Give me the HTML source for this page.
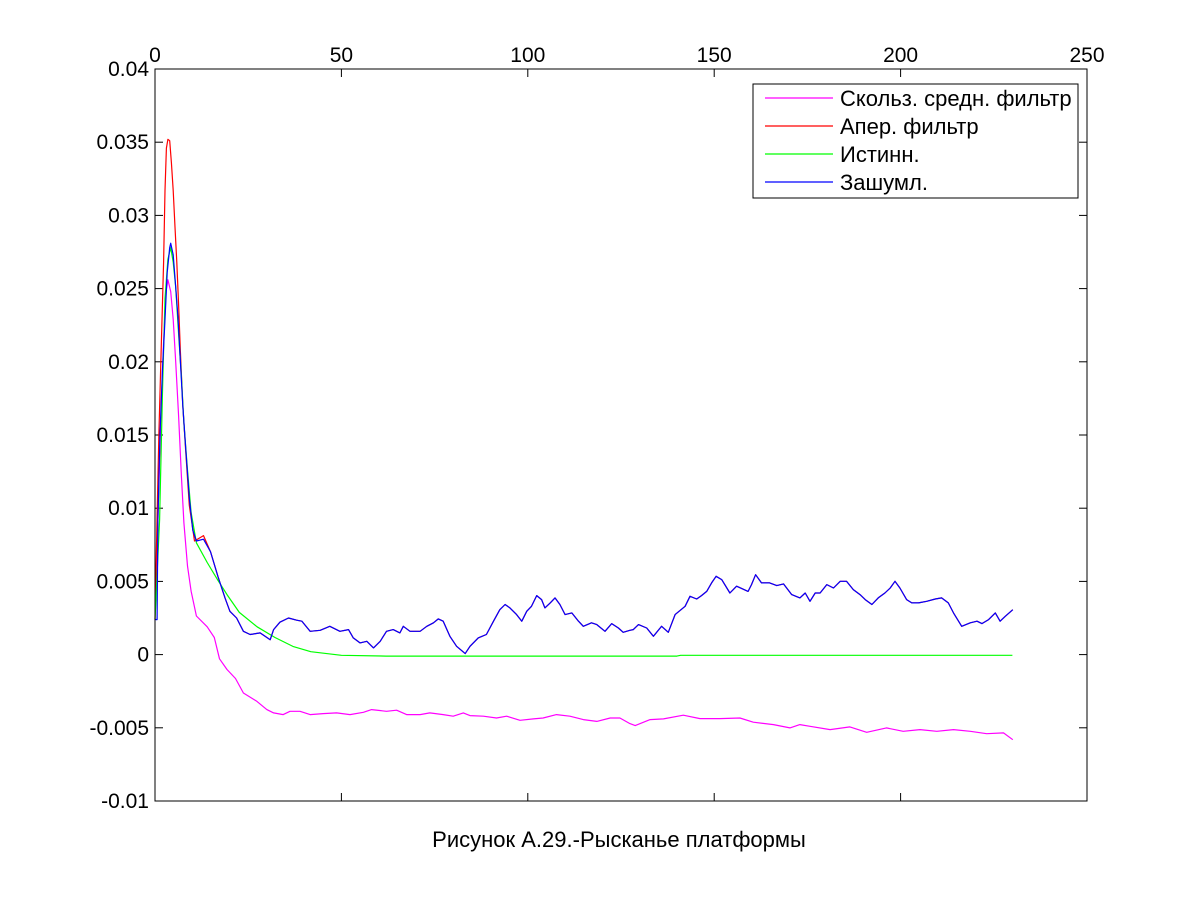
<!DOCTYPE html>
<html><head><meta charset="utf-8"><style>
html,body{margin:0;padding:0;background:#fff;}
svg{display:block;font-family:"Liberation Sans",Arial,sans-serif;}
</style></head><body>
<svg id="chart" width="1201" height="901" viewBox="0 0 1201 901" xmlns="http://www.w3.org/2000/svg">
<rect x="0" y="0" width="1201" height="901" fill="#fff"/>
<g id="grid"></g>
<g id="series"></g>
<rect x="155" y="69" width="932" height="732" fill="none" stroke="#000" stroke-width="1"/>
<g id="legend"></g>
<text x="619" y="847" font-size="22" text-anchor="middle">Рисунок А.29.-Рысканье платформы</text>
</svg>
<script>
const xTicks=[0,50,100,150,200,250];
const yTicks=[0.04,0.035,0.03,0.025,0.02,0.015,0.01,0.005,0,-0.005,-0.01];
const yTickLabels=["0.04","0.035","0.03","0.025","0.02","0.015","0.01","0.005","0","-0.005","-0.01"];
// values in units of 1e-3
const blueT=[0,0.57,0.77,1.34,2.0,2.68,3.26,3.93,4.22,4.89,5.56,6.13,6.8,7.47,8.24,9.2,10.15,11.11,13.0,14.9,16.9,18.8,20.1,21.9,23.7,25.5,28.2,30.9,31.8,33.5,35.8,38.0,39.4,41.6,44.3,46.9,49.6,51.9,53.2,55.0,56.8,58.6,60.4,62.1,63.9,65.7,66.6,68.4,71.1,72.9,74.7,76.0,77.3,79.1,80.9,83.2,84.5,86.7,88.9,90.8,92.5,93.9,95.2,97.0,98.4,99.7,101.0,102.4,103.7,104.6,106.0,107.3,108.6,110.0,111.8,113.6,114.9,117.1,118.5,120.7,122.5,124.3,125.6,127.4,128.3,129.7,131.9,133.7,135.9,137.7,139.5,142.2,143.5,145.3,146.6,148.0,149.3,150.5,152.0,154.2,156.0,159.1,160.0,161.1,162.7,164.9,166.8,168.6,170.8,173.0,174.4,175.7,177.1,178.4,180.2,182.0,183.8,185.5,187.3,189.1,190.5,192.3,194.0,195.8,197.2,198.5,199.8,201.6,203.0,204.8,207.0,209.3,211.0,212.8,214.2,216.4,218.7,220.5,221.8,223.6,225.4,226.7,228.1,230.1];
const blueV=[2.4,2.39,9.22,15.1,19.5,22.9,26.1,27.8,28.1,27.3,25.1,23.1,20.0,17.0,14.1,10.7,8.49,7.76,7.88,7.03,5.32,3.85,2.96,2.50,1.59,1.37,1.48,1.02,1.71,2.21,2.50,2.35,2.28,1.59,1.66,1.93,1.59,1.71,1.14,0.80,0.91,0.46,0.91,1.59,1.71,1.48,1.93,1.59,1.59,1.93,2.17,2.44,2.28,1.25,0.57,0.07,0.57,1.14,1.37,2.28,3.07,3.42,3.19,2.73,2.28,2.96,3.30,4.03,3.76,3.19,3.53,3.87,3.42,2.73,2.85,2.28,1.93,2.17,2.05,1.59,2.12,1.82,1.52,1.66,1.71,2.05,1.82,1.25,1.93,1.52,2.73,3.30,3.98,3.80,4.03,4.32,4.90,5.35,5.12,4.21,4.67,4.32,4.78,5.46,4.90,4.90,4.71,4.83,4.10,3.87,4.21,3.64,4.21,4.21,4.78,4.55,5.01,5.01,4.44,4.10,3.76,3.42,3.87,4.21,4.55,5.01,4.55,3.76,3.53,3.53,3.64,3.80,3.87,3.53,2.85,1.93,2.17,2.28,2.12,2.39,2.85,2.28,2.62,3.07];
const redEarlyT=[0,0.57,1.05,1.72,2.3,2.68,3.07,3.45,3.93,4.41,4.89,5.37,5.84,6.32,6.8,7.47,8.24,9.2,10.6,13.0];
const redEarlyV=[2.4,9.47,15.1,21.4,26.8,31.7,34.6,35.2,35.1,33.6,31.7,29.2,26.8,23.9,20.7,17.0,13.9,10.2,7.76,8.13];
const greenT=[0,1.24,2.0,2.68,3.45,4.22,4.89,5.56,6.32,7.09,7.76,8.72,9.68,11.1,14.0,16.9,19.3,22.6,27.4,32.2,37.0,41.8,50,62,140,141,230];
const greenV=[2.4,9.22,18.0,24.3,27.0,27.8,26.8,25.1,21.9,19.0,15.8,12.6,9.71,7.64,6.29,5.07,4.10,2.88,1.90,1.17,0.56,0.20,-0.05,-0.1,-0.1,-0.05,-0.05];
const magT=[0.3,1.53,2.3,2.97,3.45,4.22,4.89,5.56,6.32,7.09,7.76,8.72,9.68,11.1,14.0,15.9,17.3,19.3,21.6,23.7,27.3,30.0,31.8,34.4,36.2,38.9,41.6,45.1,48.7,52.3,55.9,58.1,62.1,64.8,67.5,71.1,73.7,77.3,80.0,82.7,84.5,88.1,91.6,94.3,97.9,101.5,104.1,107.7,111.3,114.9,118.5,122.1,124.7,127.4,128.8,132.8,136.4,141.7,146.2,151.5,156.9,160.5,165.9,170.3,173.0,175.7,181.1,186.4,190.9,196.2,200.7,205.2,209.7,214.2,218.7,223.1,227.6,230.1];
const magV=[5.0,15.8,21.4,24.8,25.6,24.8,22.9,20.0,16.3,12.2,9.0,6.05,4.34,2.64,1.90,1.17,-0.29,-1.02,-1.63,-2.62,-3.19,-3.76,-3.98,-4.10,-3.87,-3.87,-4.10,-4.03,-3.98,-4.10,-3.94,-3.76,-3.87,-3.80,-4.10,-4.10,-3.98,-4.10,-4.21,-3.98,-4.17,-4.21,-4.33,-4.21,-4.49,-4.39,-4.33,-4.10,-4.21,-4.44,-4.56,-4.33,-4.33,-4.71,-4.85,-4.44,-4.39,-4.14,-4.37,-4.37,-4.33,-4.62,-4.78,-5.01,-4.78,-4.90,-5.12,-4.94,-5.31,-5.01,-5.24,-5.12,-5.24,-5.12,-5.24,-5.40,-5.35,-5.81];

const NS="http://www.w3.org/2000/svg";
const X0=155,X1=1087,Y0=801,Y1=69;
function xs(t){return X0+(t-0)/(250-0)*(X1-X0);}
function ys(v){return Y0-(v-(-0.01))/(0.04-(-0.01))*(Y0-Y1);}
const grid=document.getElementById('grid');
function mk(tag,attrs,parent){const e=document.createElementNS(NS,tag);for(const k in attrs)e.setAttribute(k,attrs[k]);parent.appendChild(e);return e;}
xTicks.forEach(t=>{
  const x=xs(t);
  const a=mk('line',{x1:x,x2:x,y1:Y1,y2:Y1+8,stroke:'#000'},grid);
  
  
  const b=mk('line',{x1:x,x2:x,y1:Y0,y2:Y0-8,stroke:'#000'},grid);
  
  
  const l=mk('text',{x:x,y:Y1-7,'font-size':21,'text-anchor':'middle'},grid);
  l.textContent=String(t);
  
  
});
yTicks.forEach((v,i)=>{
  const y=ys(v);
  const a=mk('line',{x1:X0,x2:X0+8,y1:y,y2:y,stroke:'#000'},grid);
  
  
  const b=mk('line',{x1:X1,x2:X1-8,y1:y,y2:y,stroke:'#000'},grid);
  
  
  const l=mk('text',{x:X0-6,y:y+7,'font-size':21,'text-anchor':'end'},grid);
  l.textContent=yTickLabels[i];
  
  
});
const ser=document.getElementById('series');
function line(T,V,color,name){
  const d=T.map((t,i)=>(i?'L':'M')+xs(t).toFixed(1)+' '+ys(V[i]*1e-3).toFixed(1)).join(' ');
  const p=mk('path',{d:d,fill:'none',stroke:color,'stroke-width':1.2,'stroke-linejoin':'round'},ser);
  
  
}
const redT=redEarlyT.concat(blueT.filter(t=>t>13));
const redV=redEarlyV.concat(blueV.filter((v,i)=>blueT[i]>13));
line(magT,magV,'#ff00ff','series-moving-average');
line(redT,redV,'#ff0000','series-aperiodic-filter');
line(greenT,greenV,'#00ff00','series-true');
line(blueT,blueV,'#0000ff','series-noisy');
const lg=document.getElementById('legend');
const box=mk('rect',{x:753,y:84,width:325,height:114,fill:'#fff',stroke:'#000'},lg);


const names=['Скольз. средн. фильтр','Апер. фильтр','Истинн.','Зашумл.'];
const cols=['#ff00ff','#ff0000','#00ff00','#0000ff'];
names.forEach((n,i)=>{
  const y=98+i*28;
  const l=mk('line',{x1:765,x2:833,y1:y,y2:y,stroke:cols[i],'stroke-width':1.2},lg);
  
  
  const t=mk('text',{x:840,y:y+8,'font-size':22},lg);
  t.textContent=n;
  
  
});
</script>
</body></html>
